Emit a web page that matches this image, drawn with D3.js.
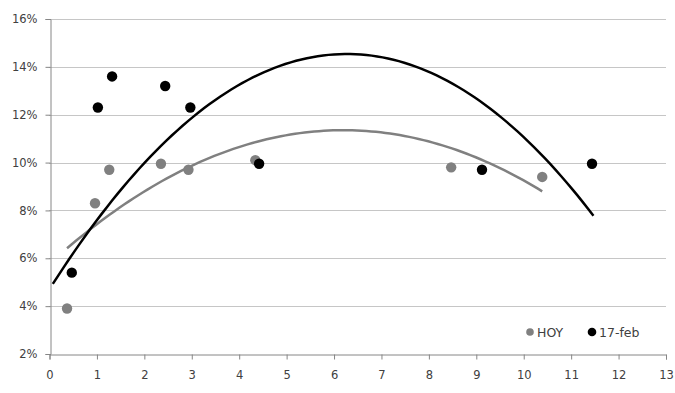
<!DOCTYPE html>
<html>
<head>
<meta charset="utf-8">
<script src="https://cdn.jsdelivr.net/npm/d3@7"></script>
<style>
  body { margin: 0; background: #fff; }
  text { font-family: "DejaVu Sans", sans-serif; font-size: 11px; fill: #404040; }
</style>
</head>
<body>
<div id="graph"></div>
<script>
// series values (x, y in %)
var hoyX = [0.37, 0.96, 1.26, 2.35, 2.93, 4.34, 8.47, 10.39];
var hoyY = [3.9, 8.3, 9.7, 9.95, 9.7, 10.1, 9.8, 9.4];
var febX = [0.47, 1.02, 1.32, 2.44, 2.97, 4.42, 9.12, 11.44];
var febY = [5.4, 12.3, 13.6, 13.2, 12.3, 9.95, 9.7, 9.95];
// 17-feb trendline as drawn in the picture (c0 + c1*x + c2*x^2), and its x range
var febTrend = [4.71, 3.135, -0.25];
var febTrendRange = [0.07, 11.47];
var seriesNames = ["HOY", "17-feb"];
var xTicks = d3.range(0, 14);
var yTicks = [2, 4, 6, 8, 10, 12, 14, 16];

var width = 675, height = 393;
var margin = {left: 49.5, right: 9, top: 19, bottom: 39};

var x = d3.scaleLinear().domain([0, 13]).range([margin.left, width - margin.right]);
var y = d3.scaleLinear().domain([2, 16]).range([height - margin.bottom, margin.top]);

var svg = d3.select("#graph").append("svg")
            .attr("width", width)
            .attr("height", height);

// gridlines
svg.append("g").selectAll("line")
   .data(yTicks.slice(1))
   .enter().append("line")
   .attr("x1", x(0)).attr("x2", x(13))
   .attr("y1", d => Math.round(y(d)) + 0.5).attr("y2", d => Math.round(y(d)) + 0.5)
   .attr("stroke", "#8c8c8c")
   .attr("stroke-dasharray", "1,1");

// axes
var yAxis = svg.append("g")
   .attr("transform", "translate(" + (Math.round(x(0)) + 0.5) + ",0)")
   .call(d3.axisLeft(y).tickValues(yTicks).tickSize(5).tickPadding(8).tickFormat(d => d + "%"));
var xAxis = svg.append("g")
   .attr("transform", "translate(0," + (Math.round(y(2)) + 0.5) + ")")
   .call(d3.axisBottom(x).tickValues(xTicks).tickSize(5).tickPadding(11));
[xAxis, yAxis].forEach(function(a) {
    a.select(".domain").attr("stroke", "#868686");
    a.selectAll(".tick line").attr("stroke", "#868686");
    a.selectAll("text").style("font-family", "DejaVu Sans").style("font-size", "11.5px").attr("fill", "#404040");
});

// quadratic least squares trendline
function polyFit(xs, ys) {
    var s = [0, 0, 0, 0, 0], t = [0, 0, 0];
    xs.forEach(function(xv, i) {
        for (var k = 0; k < 5; k++) s[k] += Math.pow(xv, k);
        for (var k2 = 0; k2 < 3; k2++) t[k2] += ys[i] * Math.pow(xv, k2);
    });
    var m = [[s[0], s[1], s[2], t[0]], [s[1], s[2], s[3], t[1]], [s[2], s[3], s[4], t[2]]];
    for (var i = 0; i < 3; i++) {
        for (var j = i + 1; j < 3; j++) {
            var f = m[j][i] / m[i][i];
            for (var k = i; k < 4; k++) m[j][k] -= f * m[i][k];
        }
    }
    var c = [0, 0, 0];
    for (var i2 = 2; i2 >= 0; i2--) {
        var v = m[i2][3];
        for (var k3 = i2 + 1; k3 < 3; k3++) v -= m[i2][k3] * c[k3];
        c[i2] = v / m[i2][i2];
    }
    return c;
}

var line = d3.line().x(d => x(d[0])).y(d => y(d[1]));

function trend(c, x0, x1, color) {
    var pts = d3.range(0, 101).map(function(i) {
        var xv = x0 + (x1 - x0) * i / 100;
        return [xv, c[0] + c[1] * xv + c[2] * xv * xv];
    });
    svg.append("path")
       .attr("d", line(pts))
       .attr("fill", "none")
       .attr("stroke", color)
       .attr("stroke-width", 2.5);
}

trend(polyFit(hoyX, hoyY), d3.min(hoyX), d3.max(hoyX), "#808080");
trend(febTrend, febTrendRange[0], febTrendRange[1], "#000");

function dots(xs, ys, color) {
    svg.append("g").selectAll("circle")
       .data(xs.map((d, i) => [d, ys[i]]))
       .enter().append("circle")
       .attr("cx", d => x(d[0]))
       .attr("cy", d => y(d[1]))
       .attr("r", 5.2)
       .attr("fill", color);
}
dots(hoyX, hoyY, "#808080");
dots(febX, febY, "#000");

// legend
var legend = svg.append("g").selectAll("g")
   .data(seriesNames)
   .enter().append("g")
   .attr("transform", (d, i) => "translate(" + (530 + i * 62) + ",332)");
legend.append("circle").attr("r", (d, i) => i ? 4.3 : 3.8).attr("fill", (d, i) => i ? "#000" : "#808080");
legend.append("text").attr("x", 7).attr("dy", "0.36em").style("font-size", "12.5px").text(d => d);
</script>
</body>
</html>
